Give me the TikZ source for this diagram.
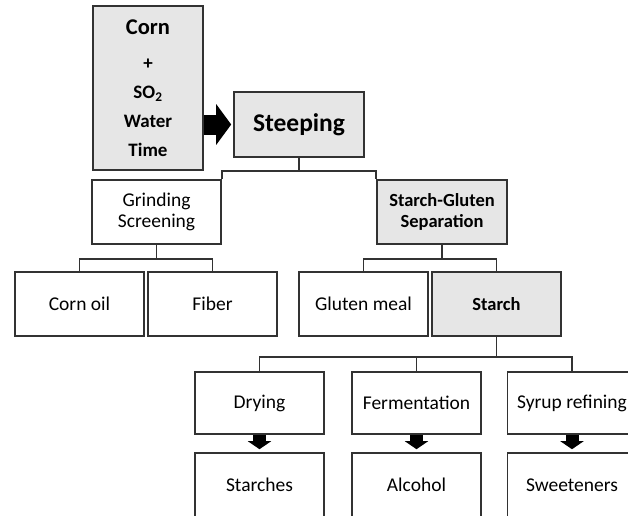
\documentclass[tikz,border=0pt]{standalone}
\usepackage{fontspec}
\setmainfont{Carlito}
\usepackage{tikz}
\usetikzlibrary{arrows.meta}
\definecolor{boxline}{RGB}{50, 50, 50}
\definecolor{boxfill}{RGB}{230, 230, 230}

\tikzset{
  box/.style={draw=boxline, line width=1.6pt, minimum width=129pt, minimum height=64pt,
    inner sep=0pt, align=center, font=\fontsize{19.5}{21}\selectfont},
  graybox/.style={box, fill=boxfill, font=\fontsize{18.5}{21}\selectfont\bfseries},
  link/.style={draw=boxline, line width=1.6pt},
  fatdown/.style={line width=13pt, -{Triangle[width=23pt,length=8pt]}, shorten >=3pt}
}

\begin{document}
\begin{tikzpicture}[x=1pt, y=-1pt]
        \useasboundingbox (0,0) rectangle (628,515);
        \node[graybox, minimum width=110pt, minimum height=164pt,
              font=\fontsize{19}{29}\selectfont\bfseries] (corn) at (148,88)
              {{\fontsize{22.5}{29}\selectfont Corn}\\[6pt] +\\ SO\textsubscript{2}\\ Water\\ Time};
        \node[graybox, minimum width=130pt, minimum height=65pt,
              font=\fontsize{25.5}{30}\selectfont\bfseries] (steep) at (299,124.5) {Steeping};
        \draw[line width=20pt, -{Triangle[width=40pt,length=15pt]}, shorten >=2pt]
              (corn.east |- steep.west) -- (steep.west);

        \node[box] (grind) at (156.5,212) {Grinding\\Screening};
        \node[graybox, minimum width=130pt] (sep) at (442,212) {Starch-Gluten\\Separation};
        \draw[link] (steep.south) -- ++(0,13) coordinate (sbus);
        \draw[link] (grind.north east) |- (sbus) -| (sep.north west);

        \node[box] (oil) at (79.5,304) {Corn oil};
        \node[box] (fiber) at (212.5,304) {Fiber};
        \node[box] (gluten) at (363.5,304) {Gluten meal};
        \node[graybox] (starch) at (496.5,304) {Starch};
        \draw[link] (grind.south) -- ++(0,14) coordinate (gbus);
        \draw[link] (oil.north) |- (gbus) -| (fiber.north);
        \draw[link] (sep.south) -- ++(0,14) coordinate (pbus);
        \draw[link] (gluten.north) |- (pbus) -| (starch.north);

        \node[box, minimum height=62pt] (dry) at (259.5,403) {Drying};
        \node[box, minimum height=62pt] (ferm) at (416.5,403) {Fermentation};
        \node[box, minimum height=62pt] (syrup) at (572,403) {Syrup refining};
        \draw[link] (starch.south) -- ++(0,20) coordinate (tbus);
        \draw[link] (dry.north) |- (tbus) -| (syrup.north);
        \draw[link] (ferm.north) -- (ferm.north |- tbus);

        \node[box] (starches) at (259.5,485) {Starches};
        \node[box] (alcohol) at (416.5,485) {Alcohol};
        \node[box] (sweet) at (572,485) {Sweeteners};
        \draw[fatdown] (dry.south) -- (starches.north);
        \draw[fatdown] (ferm.south) -- (alcohol.north);
        \draw[fatdown] (syrup.south) -- (sweet.north);
      \end{tikzpicture}
\end{document}
